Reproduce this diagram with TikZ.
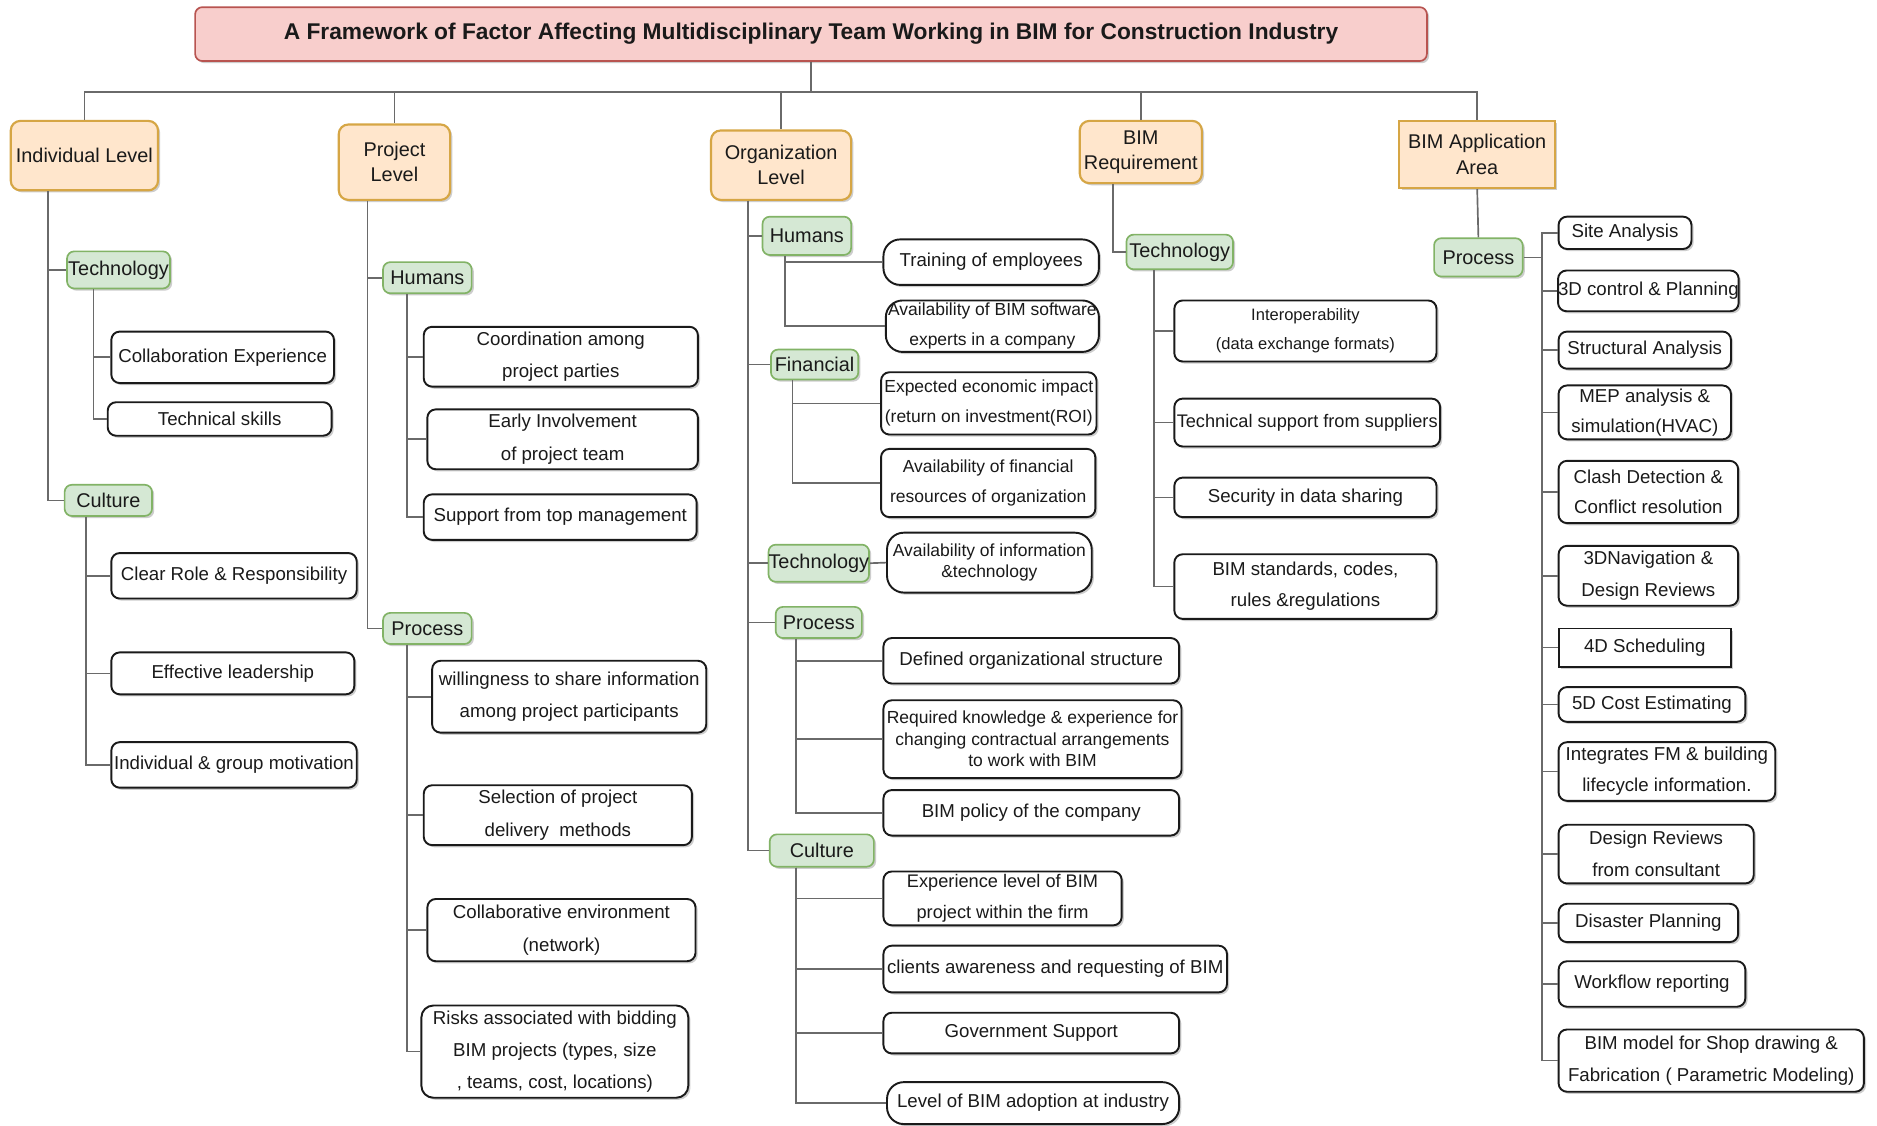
\documentclass[tikz,border=0pt]{standalone}
\usepackage{fontspec}
\setmainfont{Liberation Sans}
\usetikzlibrary{shadows}

\definecolor{titlefill}{HTML}{F8CECC}
\definecolor{titleline}{HTML}{B85450}
\definecolor{levelfill}{HTML}{FFE6CC}
\definecolor{levelline}{HTML}{D6A645}
\definecolor{catfill}{HTML}{D5E8D4}
\definecolor{catline}{HTML}{82B366}
\definecolor{wirecol}{HTML}{6A6A6A}
\definecolor{ink}{HTML}{1A1A1A}

% box from corner (#3,#4) to corner (#5,#6), style #1, name #2, text #7
\newcommand\boxat[7]{\node[#1, minimum width={(#5-#3)*0.5pt}, minimum height={(#6-#4)*0.5pt}] (#2) at ({(#3+#5)/2},{(#4+#6)/2}) {#7};}

\tikzset{
  boxshadow/.style={drop shadow={shadow xshift=0.9pt, shadow yshift=-0.9pt, opacity=0.28, fill=black!70}},
  basebox/.style={draw, inner sep=0pt, align=center, text=ink, boxshadow},
  titlebox/.style={basebox, fill=titlefill, draw=titleline, line width=0.7pt, rounded corners=3pt,
    font=\bfseries\fontsize{9.5}{11}\selectfont},
  levelbox/.style={basebox, fill=levelfill, draw=levelline, line width=0.9pt, rounded corners=4pt,
    font=\fontsize{8.3}{10.5}\selectfont},
  catbox/.style={basebox, fill=catfill, draw=catline, line width=0.7pt, rounded corners=3pt,
    font=\fontsize{8.3}{10}\selectfont},
  leafbox/.style={basebox, fill=white, draw=ink, line width=0.8pt, rounded corners=3.5pt,
    font=\fontsize{7.8}{13.5}\selectfont},
  pill/.style={rounded corners=7pt},
  smalltext/.style={font=\fontsize{7.3}{12.5}\selectfont},
  tighttext/.style={font=\fontsize{7.3}{9}\selectfont},
  wire/.style={draw=wirecol, line width=0.7pt},
}

\begin{document}
\begin{tikzpicture}[x=0.5pt, y=-0.5pt]
\useasboundingbox[fill=white] (0,0) rectangle (1568,940);

% ---------- title and the five levels ----------
\boxat{titlebox}{title}{163}{6}{1192}{51}{A Framework of Factor Affecting Multidisciplinary Team Working in BIM for Construction Industry}
\boxat{levelbox}{ind}{9}{101}{132}{159}{Individual Level}
\boxat{levelbox}{prj}{283}{104}{376}{167}{Project\\Level}
\boxat{levelbox}{org}{594}{109}{711}{167}{Organization\\Level}
\boxat{levelbox}{req}{902}{101}{1004}{153}{BIM\\Requirement}
\boxat{levelbox, rounded corners=0pt}{app}{1169}{101}{1299}{157}{BIM Application\\Area}

% ---------- individual level ----------
\boxat{catbox}{itech}{56}{210}{142}{241}{Technology}
\boxat{catbox}{icul}{54}{405}{127}{431}{Culture}
\boxat{leafbox}{i1}{93}{277}{279}{320}{Collaboration Experience}
\boxat{leafbox}{i2}{90}{336}{277}{364}{Technical skills}
\boxat{leafbox}{i3}{93}{462}{298}{500}{Clear Role \& Responsibility}
\boxat{leafbox}{i4}{93}{545}{296}{580}{Effective leadership}
\boxat{leafbox}{i5}{93}{620}{298}{658}{Individual \& group motivation}

% ---------- project level ----------
\boxat{catbox}{phum}{320}{219}{394}{245}{Humans}
\boxat{catbox}{pproc}{320}{512}{394}{538}{Process}
\boxat{leafbox}{p1}{354}{273}{583}{323}{Coordination among\\project parties}
\boxat{leafbox}{p2}{357}{342}{583}{392}{Early Involvement\\of project team}
\boxat{leafbox}{p3}{354}{413}{582}{451}{Support from top management}
\boxat{leafbox}{p4}{361}{552}{590}{612}{willingness to share information\\among project participants}
\boxat{leafbox}{p5}{354}{656}{578}{706}{Selection of project\\delivery\ \ methods}
\boxat{leafbox}{p6}{357}{751}{581}{803}{Collaborative environment\\(network)}
\boxat{leafbox, rounded corners=5pt}{p7}{352}{840}{575}{917}{Risks associated with bidding\\BIM projects (types, size\\, teams, cost, locations)}

% ---------- organization level ----------
\boxat{catbox}{ohum}{637}{181}{711}{213}{Humans}
\boxat{catbox}{ofin}{644}{292}{717}{317}{Financial}
\boxat{catbox}{otech}{643}{455}{725}{486}{Technology}
\boxat{catbox}{oproc}{648}{507}{720}{533}{Process}
\boxat{catbox}{ocul}{643}{697}{730}{724}{Culture}
\boxat{leafbox, pill}{o1}{738}{200}{918}{238}{Training of employees}
\boxat{leafbox, pill, smalltext}{o2}{740}{251}{918}{294}{Availability of BIM software\\experts in a company}
\boxat{leafbox, smalltext}{o3}{736}{311}{916}{363}{Expected economic impact\\(return on investment(ROI)}
\boxat{leafbox, smalltext}{o4}{736}{375}{915}{432}{Availability of financial\\resources of organization}
\boxat{leafbox, pill, tighttext}{o5}{741}{445}{912}{495}{Availability of information\\\&technology}
\boxat{leafbox}{o6}{738}{533}{985}{571}{Defined organizational structure}
\boxat{leafbox, tighttext}{o7}{738}{585}{987}{650}{Required knowledge \& experience for\\changing contractual arrangements\\to work with BIM}
\boxat{leafbox}{o8}{738}{660}{985}{698}{BIM policy of the company}
\boxat{leafbox, font=\fontsize{7.6}{13}\selectfont}{o9}{738}{728}{937}{773}{Experience level of BIM\\project within the firm}
\boxat{leafbox}{o10}{738}{790}{1025}{829}{clients awareness and requesting of BIM}
\boxat{leafbox}{o11}{738}{846}{985}{880}{Government Support}
\boxat{leafbox, pill}{o12}{741}{904}{985}{939}{Level of BIM adoption at industry}

% ---------- BIM requirement ----------
\boxat{catbox}{rtech}{941}{196}{1030}{225}{Technology}
\boxat{leafbox, font=\fontsize{6.9}{12}\selectfont}{r1}{981}{251}{1200}{302}{Interoperability\\(data exchange formats)}
\boxat{leafbox, font=\fontsize{7.6}{13}\selectfont}{r2}{981}{333}{1203}{373}{Technical support from suppliers}
\boxat{leafbox}{r3}{981}{399}{1200}{432}{Security in data sharing}
\boxat{leafbox, font=\fontsize{7.8}{13}\selectfont}{r4}{981}{463}{1200}{517}{BIM standards, codes,\\rules \&regulations}

% ---------- BIM application area ----------
\boxat{catbox}{aproc}{1198}{199}{1272}{231}{Process}
\boxat{leafbox}{a1}{1302}{181}{1413}{208}{Site Analysis}
\boxat{leafbox}{a2}{1302}{226}{1452}{260}{3D control \& Planning}
\boxat{leafbox}{a3}{1302}{277}{1446}{308}{Structural Analysis}
\boxat{leafbox, font=\fontsize{7.8}{12.5}\selectfont}{a4}{1302}{322}{1446}{367}{MEP analysis \&\\simulation(HVAC)}
\boxat{leafbox, font=\fontsize{7.8}{12.5}\selectfont}{a5}{1302}{385}{1452}{437}{Clash Detection \&\\Conflict resolution}
\boxat{leafbox}{a6}{1302}{456}{1452}{506}{3DNavigation \&\\Design Reviews}
\boxat{leafbox, rounded corners=0pt}{a7}{1302}{525}{1446}{557}{4D Scheduling}
\boxat{leafbox}{a8}{1302}{574}{1458}{603}{5D Cost Estimating}
\boxat{leafbox, font=\fontsize{7.8}{13}\selectfont}{a9}{1302}{620}{1483}{669}{Integrates FM \& building\\lifecycle information.}
\boxat{leafbox}{a10}{1302}{689}{1465}{738}{Design Reviews\\from consultant}
\boxat{leafbox}{a11}{1302}{755}{1452}{787}{Disaster Planning}
\boxat{leafbox}{a12}{1302}{803}{1458}{841}{Workflow reporting}
\boxat{leafbox}{a13}{1302}{860}{1557}{912}{BIM model for Shop drawing \&\\Fabrication ( Parametric Modeling)}

% ---------- trunk positions ----------
\coordinate (ti) at (40,0);
\coordinate (tit) at (78,0);
\coordinate (tic) at (72,0);
\coordinate (tp) at (307,0);
\coordinate (tph) at (340,0);
\coordinate (tpp) at (340,0);
\coordinate (to) at (625,0);
\coordinate (toh) at (656,0);
\coordinate (tof) at (662,0);
\coordinate (top) at (665,0);
\coordinate (toc) at (665,0);
\coordinate (tr) at (930,0);
\coordinate (trt) at (964,0);
\coordinate (ta) at (1288,0);

% ---------- connectors ----------
\foreach \n in {ind,prj,org,req,app}
  \draw[wire] (title.south) -- ++(0,25) -| (\n.north);

\foreach \c in {itech,icul} \draw[wire] (ind.south -| ti) |- (\c.west);
\foreach \c in {i1,i2} \draw[wire] (itech.south -| tit) |- (\c.west);
\foreach \c in {i3,i4,i5} \draw[wire] (icul.south -| tic) |- (\c.west);

\foreach \c in {phum,pproc} \draw[wire] (prj.south -| tp) |- (\c.west);
\foreach \c in {p1,p2,p3} \draw[wire] (phum.south -| tph) |- (\c.west);
\foreach \c in {p4,p5,p6,p7} \draw[wire] (pproc.south -| tpp) |- (\c.west);

\foreach \c in {ohum,ofin,otech,oproc,ocul} \draw[wire] (org.south -| to) |- (\c.west);
\foreach \c in {o1,o2} \draw[wire] (ohum.south -| toh) |- (\c.west);
\foreach \c in {o3,o4} \draw[wire] (ofin.south -| tof) |- (\c.west);
\draw[wire] (otech.east) -- (o5.west);
\foreach \c in {o6,o7,o8} \draw[wire] (oproc.south -| top) |- (\c.west);
\foreach \c in {o9,o10,o11,o12} \draw[wire] (ocul.south -| toc) |- (\c.west);

\draw[wire] (req.south -| tr) |- (rtech.west);
\foreach \c in {r1,r2,r3,r4} \draw[wire] (rtech.south -| trt) |- (\c.west);

\draw[wire] (app.south) -- (aproc.north);
\draw[wire] (aproc.east) -- (aproc.east -| ta);
\foreach \c in {a1,a2,a3,a4,a5,a6,a7,a8,a9,a10,a11,a12,a13}
  \draw[wire] (aproc.east -| ta) |- (\c.west);
\end{tikzpicture}
\end{document}
